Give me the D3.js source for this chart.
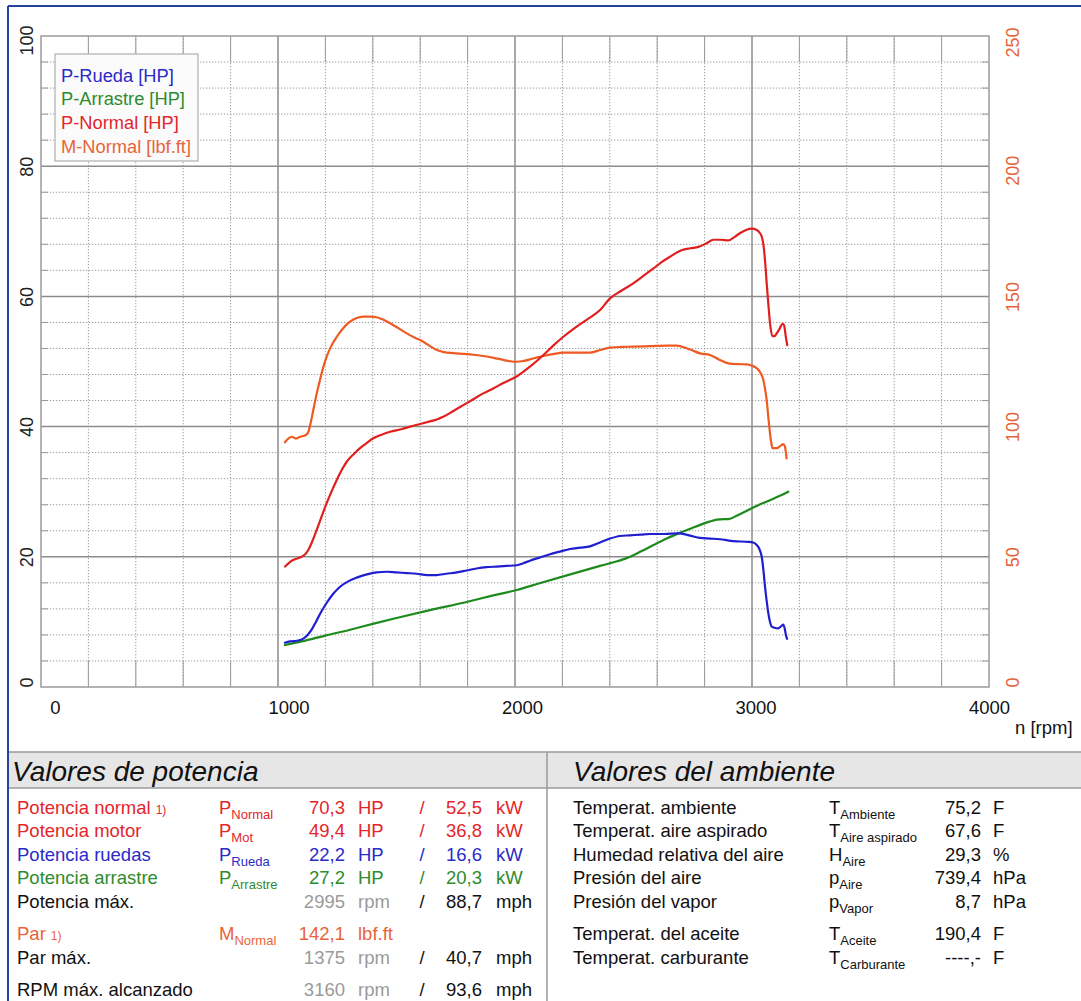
<!DOCTYPE html>
<html><head><meta charset="utf-8">
<script src="https://cdn.jsdelivr.net/npm/d3@7"></script>
<style>
body{margin:0;background:#fff;}
svg{display:block;font-family:Arial,"Liberation Sans",sans-serif;}
</style></head><body>
<svg id="c" width="1081" height="1001"></svg>
<script>
// ---------------- DATA ----------------
const xTicks = [0, 1000, 2000, 3000, 4000];
const pTicks = [0, 20, 40, 60, 80, 100];
const mTicks = [0, 50, 100, 150, 200, 250];
const xTitle = "n [rpm]";
const legendLabels = ["P-Rueda [HP]", "P-Arrastre [HP]", "P-Normal [HP]", "M-Normal [lbf.ft]"];

// [rpm, HP]
const pRueda = [[1029,6.8],[1050,7.0],[1080,7.1],[1105,7.4],[1125,8.0],[1142,8.8],[1160,10.0],[1180,11.4],[1205,12.9],[1235,14.4],[1262,15.4],[1300,16.3],[1332,16.8],[1375,17.3],[1416,17.6],[1460,17.7],[1501,17.6],[1545,17.5],[1585,17.4],[1630,17.2],[1670,17.2],[1710,17.4],[1754,17.6],[1796,17.9],[1838,18.2],[1880,18.4],[1923,18.5],[1965,18.6],[2007,18.7],[2035,19.0],[2063,19.4],[2105,19.9],[2148,20.4],[2190,20.8],[2232,21.2],[2275,21.4],[2316,21.6],[2359,22.2],[2401,22.8],[2443,23.2],[2485,23.3],[2530,23.4],[2570,23.5],[2630,23.5],[2689,23.6],[2735,23.3],[2781,22.9],[2823,22.8],[2865,22.7],[2921,22.4],[2985,22.3],[3005,22.2],[3020,21.8],[3031,21.2],[3041,20.0],[3048,18.0],[3055,15.4],[3062,13.2],[3069,11.3],[3076,10.0],[3083,9.3],[3095,9.1],[3110,9.0],[3125,9.4],[3132,9.6],[3138,9.0],[3143,8.0],[3148,7.4]];
const pArrastre = [[1029,6.45],[1100,7.0],[1200,7.9],[1304,8.8],[1400,9.7],[1500,10.6],[1641,11.8],[1800,13.1],[1900,14.0],[2007,14.9],[2100,15.9],[2204,17.0],[2300,18.0],[2359,18.6],[2420,19.2],[2471,19.8],[2530,20.8],[2584,21.8],[2640,22.8],[2689,23.6],[2740,24.3],[2781,24.9],[2820,25.4],[2851,25.7],[2880,25.8],[2900,25.8],[2940,26.4],[2991,27.3],[3030,28.0],[3076,28.7],[3120,29.4],[3153,30.0]];
const pNormal = [[1030,18.5],[1050,19.2],[1070,19.6],[1093,19.9],[1115,20.4],[1130,21.2],[1145,22.4],[1163,24.1],[1185,26.3],[1205,28.2],[1228,30.2],[1248,31.8],[1270,33.4],[1290,34.6],[1320,35.8],[1346,36.7],[1375,37.5],[1402,38.2],[1440,38.8],[1473,39.2],[1520,39.6],[1557,40.0],[1600,40.4],[1641,40.8],[1670,41.1],[1697,41.5],[1740,42.4],[1782,43.3],[1824,44.2],[1866,45.1],[1910,45.9],[1951,46.7],[2007,47.7],[2063,49.2],[2120,51.0],[2160,52.4],[2204,53.8],[2250,55.1],[2302,56.4],[2359,57.9],[2401,59.7],[2450,60.9],[2499,62.0],[2540,63.1],[2584,64.3],[2620,65.3],[2654,66.1],[2703,67.1],[2740,67.4],[2774,67.6],[2810,68.2],[2837,68.7],[2870,68.7],[2900,68.6],[2925,69.1],[2949,69.7],[2975,70.2],[2999,70.4],[3020,70.2],[3034,69.7],[3041,69.2],[3048,68.0],[3055,65.5],[3062,62.0],[3069,58.8],[3076,55.9],[3086,53.9],[3095,53.9],[3104,54.3],[3116,55.0],[3129,55.8],[3135,55.6],[3139,54.8],[3144,53.5],[3149,52.5]];
// [rpm, lbf.ft]
const mNormal = [[1029,94.0],[1045,95.5],[1058,96.1],[1070,95.6],[1079,95.5],[1090,96.0],[1107,96.4],[1120,97.0],[1128,98.0],[1138,101.5],[1149,106.4],[1163,112.5],[1177,117.9],[1190,122.5],[1205,126.8],[1225,131.0],[1248,134.5],[1275,137.8],[1304,140.3],[1330,141.6],[1360,142.2],[1390,142.2],[1416,142.0],[1445,141.0],[1473,139.7],[1508,137.8],[1543,135.8],[1578,134.1],[1613,132.6],[1640,131.0],[1670,129.4],[1700,128.6],[1740,128.2],[1782,127.9],[1824,127.6],[1866,127.1],[1910,126.4],[1951,125.6],[1980,125.1],[2007,124.9],[2035,125.2],[2063,125.8],[2090,126.5],[2120,127.1],[2160,127.8],[2204,128.4],[2260,128.4],[2316,128.4],[2359,129.4],[2401,130.3],[2450,130.6],[2499,130.7],[2570,130.9],[2640,131.1],[2682,131.1],[2724,130.1],[2750,129.2],[2781,128.1],[2823,127.5],[2860,125.8],[2900,124.3],[2940,124.0],[2978,123.9],[3000,123.4],[3020,122.4],[3035,120.8],[3048,117.9],[3055,114.5],[3062,110.2],[3069,103.5],[3076,97.4],[3082,93.5],[3087,91.7],[3104,91.7],[3120,92.6],[3132,93.3],[3139,92.3],[3143,90.0],[3146,87.8]];

// power table
const potTitle = "Valores de potencia";
const potLabels = ["Potencia normal","Potencia motor","Potencia ruedas","Potencia arrastre","Potencia máx.","Par","Par máx.","RPM máx. alcanzado"];
const potNotes = ["1)","","","","","1)","",""];
const potSym = ["P","P","P","P","","M","",""];
const potSub = ["Normal","Mot","Rueda","Arrastre","","Normal","",""];
const potV1 = ["70,3","49,4","22,2","27,2","2995","142,1","1375","3160"];
const potU1 = ["HP","HP","HP","HP","rpm","lbf.ft","rpm","rpm"];
const potV2 = ["52,5","36,8","16,6","20,3","88,7","","40,7","93,6"];
const potU2 = ["kW","kW","kW","kW","mph","","mph","mph"];
const potKind = ["normal","normal","rueda","arrastre","max","par","max","max"];

// ambient table
const ambTitle = "Valores del ambiente";
const ambLabels = ["Temperat. ambiente","Temperat. aire aspirado","Humedad relativa del aire","Presión del aire","Presión del vapor","Temperat. del aceite","Temperat. carburante"];
const ambSym = ["T","T","H","p","p","T","T"];
const ambSub = ["Ambiente","Aire aspirado","Aire","Aire","Vapor","Aceite","Carburante"];
const ambVal = ["75,2","67,6","29,3","739,4","8,7","190,4","----,-"];
const ambUnit = ["F","F","%","hPa","hPa","F","F"];

// ---------------- DRAWING ----------------
const COL = {rueda:"#1f1fd0", arrastre:"#1e8a1e", normal:"#e0201e", torque:"#ee5a22"};
const TXT = {normal:"#e3262b", rueda:"#2a2ac8", arrastre:"#2e8b2e", par:"#e8643a", max:"#111", grey:"#9a9a9a"};
const svg = d3.select("#c");
const m = {l:41, r:989, t:36, b:687};
const x = d3.scaleLinear().domain([0,4000]).range([m.l, m.r]);
const yP = d3.scaleLinear().domain([0,100]).range([m.b, m.t]);
const yM = d3.scaleLinear().domain([0,250]).range([m.b, m.t]);

// outer blue frame
svg.append("line").attr("x1",8).attr("x2",1081).attr("y1",6).attr("y2",6).attr("stroke","#24439a").attr("stroke-width",2);
svg.append("line").attr("x1",8).attr("x2",8).attr("y1",6).attr("y2",1001).attr("stroke","#24439a").attr("stroke-width",2);

const grid = svg.append("g");
const minorX = d3.range(200, 4000, 200).filter(v => v % 1000 !== 0);
const majorX = [1000, 2000, 3000];
const minorY = d3.range(4, 100, 4).filter(v => v % 20 !== 0);
const majorY = [20, 40, 60, 80];
const tickLen = yP(0) - yP(4);

grid.selectAll(".mx").data(minorX).join("line")
  .attr("x1", d => x(d)).attr("x2", d => x(d)).attr("y1", m.t).attr("y2", m.b)
  .attr("stroke","#9c9c9c").attr("stroke-width",1).attr("stroke-dasharray","1.3,1.7");
grid.selectAll(".mxt").data(minorX).join("line")
  .attr("x1", d => x(d)).attr("x2", d => x(d)).attr("y1", m.t).attr("y2", m.t + tickLen)
  .attr("stroke","#9a9a9a").attr("stroke-width",1);
grid.selectAll(".mxb").data(minorX).join("line")
  .attr("x1", d => x(d)).attr("x2", d => x(d)).attr("y1", m.b - tickLen).attr("y2", m.b)
  .attr("stroke","#9a9a9a").attr("stroke-width",1);
grid.selectAll(".my").data(minorY).join("line")
  .attr("x1", m.l).attr("x2", m.r).attr("y1", d => yP(d)).attr("y2", d => yP(d))
  .attr("stroke","#9c9c9c").attr("stroke-width",1).attr("stroke-dasharray","1.3,1.7");
grid.selectAll(".myl").data(minorY).join("line")
  .attr("x1", m.l).attr("x2", m.l + 7).attr("y1", d => yP(d)).attr("y2", d => yP(d))
  .attr("stroke","#9a9a9a").attr("stroke-width",1);
grid.selectAll(".myr").data(minorY).join("line")
  .attr("x1", m.r - 7).attr("x2", m.r).attr("y1", d => yP(d)).attr("y2", d => yP(d))
  .attr("stroke","#9a9a9a").attr("stroke-width",1);
grid.selectAll(".Mx").data(majorX).join("line")
  .attr("x1", d => x(d)).attr("x2", d => x(d)).attr("y1", m.t).attr("y2", m.b)
  .attr("stroke","#8c8c8c").attr("stroke-width",1.5);
grid.selectAll(".My").data(majorY).join("line")
  .attr("x1", m.l).attr("x2", m.r).attr("y1", d => yP(d)).attr("y2", d => yP(d))
  .attr("stroke","#8c8c8c").attr("stroke-width",1.5);
grid.append("rect").attr("x", m.l).attr("y", m.t).attr("width", m.r - m.l).attr("height", m.b - m.t)
  .attr("fill","none").attr("stroke","#9a9a9a").attr("stroke-width",1.5);

// axes (labels only)
const gx = svg.append("g").attr("transform",`translate(0,${m.b})`)
  .call(d3.axisBottom(x).tickValues(xTicks).tickSize(0).tickFormat(d3.format("d")));
gx.select(".domain").remove();
gx.selectAll("text").attr("y", 21).attr("dy","0.35em")
  .attr("dx", d => 14 * (1 - d / 4000))
  .attr("font-size", 18.5).attr("font-family","Arial, 'Liberation Sans', sans-serif").attr("fill","#111");
svg.append("text").attr("x", x(4000) + 26).attr("y", 734).attr("font-size",18.5).attr("fill","#111").text(xTitle);

const gyl = svg.append("g").attr("transform",`translate(${m.l},0)`)
  .call(d3.axisLeft(yP).tickValues(pTicks).tickSize(0));
gyl.select(".domain").remove();
gyl.selectAll("text").attr("x",0).attr("y",0).attr("dy","0.35em").attr("text-anchor","middle")
  .attr("transform", d => `translate(-14,${d===100?4:(d===0?-5:0)}) rotate(-90)`)
  .attr("font-size",18).attr("font-family","Arial, 'Liberation Sans', sans-serif").attr("fill","#222");

const gyr = svg.append("g").attr("transform",`translate(${m.r},0)`)
  .call(d3.axisRight(yM).tickValues(mTicks).tickSize(0));
gyr.select(".domain").remove();
gyr.selectAll("text").attr("x",0).attr("y",0).attr("dy","0.35em").attr("text-anchor","middle")
  .attr("transform", d => `translate(24,${d===250?6:(d===0?-5:(d===200?4:0))}) rotate(-90)`)
  .attr("font-size",18).attr("font-family","Arial, 'Liberation Sans', sans-serif").attr("fill","#e4643a");

// curves
const lineP = d3.line().x(d => x(d[0])).y(d => yP(d[1])).curve(d3.curveMonotoneX);
const lineM = d3.line().x(d => x(d[0])).y(d => yM(d[1])).curve(d3.curveMonotoneX);
const curves = svg.append("g").attr("fill","none").attr("stroke-width",2.2).attr("stroke-linejoin","round").attr("stroke-linecap","round");
curves.append("path").attr("d", lineP(pArrastre)).attr("stroke", COL.arrastre);
curves.append("path").attr("d", lineP(pRueda)).attr("stroke", COL.rueda);
curves.append("path").attr("d", lineM(mNormal)).attr("stroke", COL.torque);
curves.append("path").attr("d", lineP(pNormal)).attr("stroke", COL.normal);

// legend
const lg = svg.append("g");
lg.append("rect").attr("x",55).attr("y",54).attr("width",143).attr("height",107)
  .attr("fill","#fbfbfb").attr("stroke","#a0a0a0").attr("stroke-width",1);
const legCols = [TXT.rueda, TXT.arrastre, TXT.normal, TXT.par];
lg.selectAll("text").data(legendLabels).join("text")
  .attr("x",61).attr("y",(d,i) => 81.5 + i*23.9).attr("font-size",18.3)
  .attr("fill",(d,i) => legCols[i]).text(d => d);

// ---------------- TABLES ----------------
const tb = svg.append("g");
tb.append("rect").attr("x",9).attr("y",752).attr("width",1072).attr("height",36).attr("fill","#e6e6e6");
tb.append("line").attr("x1",9).attr("x2",1081).attr("y1",752).attr("y2",752).attr("stroke","#9a9a9a").attr("stroke-width",1.5);
tb.append("line").attr("x1",9).attr("x2",1081).attr("y1",788).attr("y2",788).attr("stroke","#9a9a9a").attr("stroke-width",1.5);
tb.append("line").attr("x1",547).attr("x2",547).attr("y1",752).attr("y2",1001).attr("stroke","#9a9a9a").attr("stroke-width",1.5);
tb.append("text").attr("x",12).attr("y",781).attr("font-size",28).attr("font-style","italic").attr("fill","#111").text(potTitle);
tb.append("text").attr("x",573).attr("y",781).attr("font-size",28).attr("font-style","italic").attr("fill","#111").text(ambTitle);

const rowY = [814, 837, 860.5, 883.5, 908, 940, 964, 996];
const FS = 18.5, SUBFS = 13;

function labelCol(k){ return k === "max" ? TXT.max : TXT[k]; }
function v1Col(k){ return k === "max" ? TXT.grey : TXT[k]; }
function v2Col(k){ return k === "max" ? TXT.max : TXT[k]; }

potLabels.forEach((lab, i) => {
  const k = potKind[i], y = rowY[i];
  const t = tb.append("text").attr("x",17).attr("y",y).attr("font-size",FS).attr("fill",labelCol(k));
  t.append("tspan").text(lab);
  if (potNotes[i]) t.append("tspan").attr("font-size",12).attr("dx",5).text(potNotes[i]);
  if (potSym[i]) {
    const s = tb.append("text").attr("x",219).attr("y",y).attr("font-size",FS).attr("fill",TXT[k]);
    s.append("tspan").text(potSym[i]);
    s.append("tspan").attr("font-size",SUBFS).attr("dy",5).text(potSub[i]);
  }
  tb.append("text").attr("x",345).attr("y",y).attr("text-anchor","end").attr("font-size",FS).attr("fill",v1Col(k)).text(potV1[i]);
  tb.append("text").attr("x",358).attr("y",y).attr("font-size",FS).attr("fill",v1Col(k)).text(potU1[i]);
  if (potV2[i]) {
    tb.append("text").attr("x",422).attr("y",y).attr("text-anchor","middle").attr("font-size",FS).attr("fill",v2Col(k)).text("/");
    tb.append("text").attr("x",482).attr("y",y).attr("text-anchor","end").attr("font-size",FS).attr("fill",v2Col(k)).text(potV2[i]);
    tb.append("text").attr("x",496).attr("y",y).attr("font-size",FS).attr("fill",v2Col(k)).text(potU2[i]);
  }
});

ambLabels.forEach((lab, i) => {
  const y = rowY[i];
  tb.append("text").attr("x",573).attr("y",y).attr("font-size",FS).attr("fill","#111").text(lab);
  const s = tb.append("text").attr("x",829).attr("y",y).attr("font-size",FS).attr("fill","#111");
  s.append("tspan").text(ambSym[i]);
  s.append("tspan").attr("font-size",SUBFS).attr("dy",5).text(ambSub[i]);
  tb.append("text").attr("x",981).attr("y",y).attr("text-anchor","end").attr("font-size",FS).attr("fill","#111").text(ambVal[i]);
  tb.append("text").attr("x",993).attr("y",y).attr("font-size",FS).attr("fill","#111").text(ambUnit[i]);
});
</script>
</body></html>
